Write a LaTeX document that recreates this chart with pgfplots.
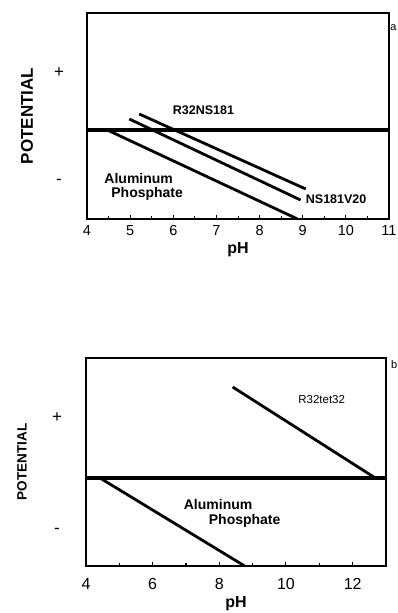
\documentclass[border=0pt]{standalone}
\usepackage{pgfplots}
\pgfplotsset{compat=1.18}
\usepackage{fontspec}
\setmainfont{Liberation Sans}

\pgfplotsset{
  phplot/.style={
    scale only axis,
    axis line style={line width=1.2pt},
    tick pos=bottom,
    xtick align=inside,
    major tick length=4pt,
    minor tick length=3pt,
    minor tick num=1,
    every tick/.style={line width=1pt, black},
    ytick style={draw=none},
    /pgf/number format/assume math mode=true,
    yticklabel style={anchor=center},
    clip=false,
  },
  boundary/.style={line width=4.2pt, black, no marks},
  edge/.style={line width=2.8pt, black, no marks},
}

\begin{document}
\begin{tikzpicture}
\path[use as bounding box] (0,0) rectangle (398pt,613pt);

% (a) upper panel
\begin{axis}[phplot,
  at={(87pt,394pt)}, anchor=south west,
  width=302pt, height=206pt,
  xmin=4, xmax=11, ymin=-89, ymax=117,
  xtick={4,5,...,11},
  ytick={-52,57}, yticklabels={{-},{+}},
  xticklabel style={font=\fontsize{14.5}{16}\selectfont, anchor=center, yshift=-12pt},
  yticklabel style={font=\fontsize{17}{19}\selectfont, xshift=-28pt},
  xlabel={\textbf{pH}},
  xlabel style={font=\fontsize{16}{18}\selectfont, at={(axis description cs:0.5,0)}, anchor=center, yshift=-31pt},
]
\addplot[boundary] coordinates {(4,0) (11,0)};
\addplot[edge] coordinates {(4.47,0) (8.88,-89)};
\addplot[edge] coordinates {(4.98,11) (8.95,-70)};
\addplot[edge] coordinates {(5.21,16) (9.07,-59)};
\node[font=\fontsize{12.5}{14}\selectfont\bfseries] at (axis cs:6.70,20) {R32NS181};
\node[font=\fontsize{12.5}{14}\selectfont\bfseries, anchor=west, inner sep=0pt] at (axis cs:9.07,-69) {NS181V20};
\node[font=\fontsize{14}{16}\selectfont\bfseries, anchor=west, inner sep=0pt] at (axis cs:4.40,-49) {Aluminum};
\node[font=\fontsize{14}{16}\selectfont\bfseries, anchor=west, inner sep=0pt] at (axis cs:4.56,-64) {Phosphate};
\node[font=\fontsize{11}{13}\selectfont] at (rel axis cs:1.015,0.927) {a};
\node[font=\fontsize{17}{19}\selectfont\bfseries, rotate=90] at ([xshift=-60pt]rel axis cs:0,0.5) {POTENTIAL};
\end{axis}

% (b) lower panel
\begin{axis}[phplot,
  at={(86pt,47pt)}, anchor=south west,
  width=300pt, height=208pt,
  xmin=4, xmax=13, ymin=-88, ymax=120,
  xtick={4,6,...,12},
  ytick={-53,60}, yticklabels={{-},{+}},
  xticklabel style={font=\fontsize{16}{18}\selectfont, anchor=center, yshift=-18pt},
  yticklabel style={font=\fontsize{17}{19}\selectfont, xshift=-29pt},
  xlabel={\textbf{pH}},
  xlabel style={font=\fontsize{16}{18}\selectfont, at={(axis description cs:0.5,0)}, anchor=center, yshift=-38pt},
]
\addplot[boundary] coordinates {(4,0) (13,0)};
\addplot[edge] coordinates {(4.42,0) (8.76,-88)};
\addplot[edge] coordinates {(8.40,91) (12.68,0)};
\node[font=\fontsize{11.5}{13}\selectfont] at (axis cs:11.07,78) {R32tet32};
\node[font=\fontsize{14}{16}\selectfont\bfseries, anchor=west, inner sep=0pt] at (axis cs:6.93,-26) {Aluminum};
\node[font=\fontsize{14}{16}\selectfont\bfseries, anchor=west, inner sep=0pt] at (axis cs:7.68,-43) {Phosphate};
\node[font=\fontsize{11}{13}\selectfont] at (rel axis cs:1.027,0.966) {b};
\node[font=\fontsize{13.5}{15}\selectfont\bfseries, rotate=90] at ([xshift=-64pt]rel axis cs:0,0.5) {POTENTIAL};
\end{axis}
\end{tikzpicture}
\end{document}
